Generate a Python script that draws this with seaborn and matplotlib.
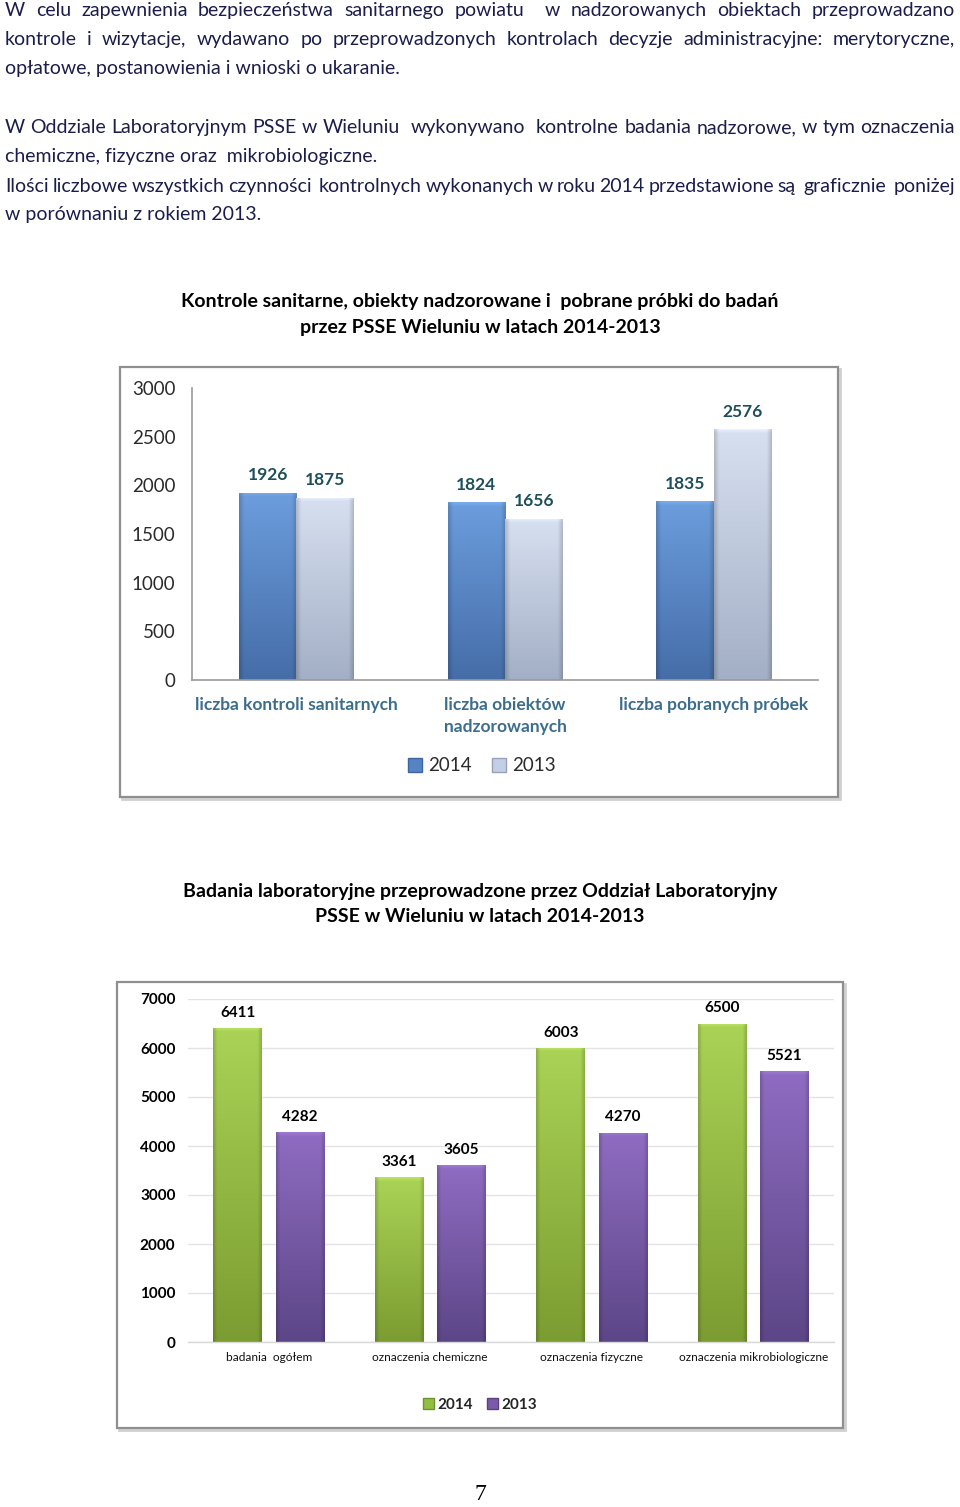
import matplotlib
matplotlib.use("Agg")
import matplotlib.pyplot as plt
import seaborn as sns
import numpy as np
import pandas as pd
from matplotlib.patches import Rectangle, Patch
from matplotlib.colors import to_rgb

# ---------------- data ----------------
years = ["2014", "2013"]

cats1 = ["liczba kontroli sanitarnych", "liczba obiektów\nnadzorowanych", "liczba pobranych próbek"]
vals1_2014 = [1926, 1824, 1835]
vals1_2013 = [1875, 1656, 2576]
yticks1 = [0, 500, 1000, 1500, 2000, 2500, 3000]

cats2 = ["badania  ogółem", "oznaczenia chemiczne", "oznaczenia fizyczne", "oznaczenia mikrobiologiczne"]
vals2_2014 = [6411, 3361, 6003, 6500]
vals2_2013 = [4282, 3605, 4270, 5521]
yticks2 = [0, 1000, 2000, 3000, 4000, 5000, 6000, 7000]

title1 = ["Kontrole sanitarne, obiekty nadzorowane i  pobrane próbki do badań",
          "przez PSSE Wieluniu w latach 2014-2013"]
title2 = ["Badania laboratoryjne przeprowadzone przez Oddział Laboratoryjny",
          "PSSE w Wieluniu w latach 2014-2013"]

paragraph_lines = [
    ("W celu zapewnienia bezpieczeństwa sanitarnego powiatu  w nadzorowanych obiektach przeprowadzano", True),
    ("kontrole i wizytacje, wydawano po przeprowadzonych kontrolach decyzje administracyjne: merytoryczne,", True),
    ("opłatowe, postanowienia i wnioski o ukaranie.", False),
    ("W Oddziale Laboratoryjnym PSSE w Wieluniu  wykonywano  kontrolne badania nadzorowe, w tym oznaczenia", True),
    ("chemiczne, fizyczne oraz  mikrobiologiczne.", False),
    ("Ilości liczbowe wszystkich czynności  kontrolnych wykonanych w roku 2014 przedstawione są  graficznie  poniżej", True),
    ("w porównaniu z rokiem 2013.", False),
]
paragraph_baseline = [16, 45, 74, 133, 162, 192, 220]
page_number = "7"

df1 = pd.DataFrame({
    "cat": cats1 * 2,
    "val": vals1_2014 + vals1_2013,
    "year": [years[0]] * len(cats1) + [years[1]] * len(cats1),
})
df2 = pd.DataFrame({
    "cat": cats2 * 2,
    "val": vals2_2014 + vals2_2013,
    "year": [years[0]] * len(cats2) + [years[1]] * len(cats2),
})

# ---------------- style ----------------
sns.set_theme(style="white")
plt.rcParams["font.family"] = ["Lato", "DejaVu Sans"]

W, H = 960, 1507
fig = plt.figure(figsize=(W / 100, H / 100), dpi=100)
fig.patch.set_facecolor("white")


def fx(px):
    return px / W


def fy(py):
    return 1 - py / H


TEXT_COL = "#1b1d4a"

# ---------------- paragraphs (justified) ----------------
renderer = fig.canvas.get_renderer()
LEFT, RIGHT = 5, 955
BODY_FS = 14
for (line, just), y in zip(paragraph_lines, paragraph_baseline):
    if not just:
        fig.text(fx(LEFT), fy(y), line, fontsize=BODY_FS, color=TEXT_COL,
                 ha="left", va="baseline")
        continue
    tokens = line.split(" ")
    items = []
    for w in tokens:
        if w:
            t = fig.text(0, fy(y), w, fontsize=BODY_FS, color=TEXT_COL, ha="left", va="baseline")
            items.append((t, t.get_window_extent(renderer).width))
        else:
            items.append((None, 0.0))
    gap = (RIGHT - LEFT - sum(wd for _, wd in items)) / (len(items) - 1)
    x = LEFT
    for t, wd in items:
        if t is not None:
            t.set_x(fx(x))
        x += wd + gap

# ---------------- titles ----------------
for i, line in enumerate(title1):
    fig.text(fx(480), fy(302 + 26 * i), line, fontsize=14, fontweight="bold",
             color="black", ha="center", va="center")
for i, line in enumerate(title2):
    fig.text(fx(480), fy(891 + 26 * i), line, fontsize=14, fontweight="bold",
             color="black", ha="center", va="center")

# ---------------- frames ----------------
def frame(x0, y0, x1, y1):
    fig.patches.append(Rectangle((fx(x0 + 2), fy(y1 + 2)), fx(x1) - fx(x0), (y1 - y0) / H,
                                 transform=fig.transFigure, facecolor="none",
                                 edgecolor="#d0d0d0", lw=2, zorder=-2))
    fig.patches.append(Rectangle((fx(x0), fy(y1)), fx(x1) - fx(x0), (y1 - y0) / H,
                                 transform=fig.transFigure, facecolor="white",
                                 edgecolor="#8f8f8f", lw=1.6, zorder=-1))


frame(120, 367, 838, 797)
frame(117, 982, 843, 1428)


# ---------------- gradient shading of bars ----------------
def shade_bars(ax, color_pairs, bevel_px=5):
    ax.figure.canvas.draw()
    y0, y1 = ax.get_ylim()
    ax_h_px = ax.get_window_extent().height
    for cont, (top, bot) in zip(ax.containers, color_pairs):
        top = np.array(to_rgb(top))
        bot = np.array(to_rgb(bot))
        for p in cont.patches:
            h = p.get_height()
            if h <= 0:
                continue
            x0, w = p.get_x(), p.get_width()
            n = 400
            t = np.linspace(0, 1, n)[:, None]
            col = top[None, None, :] * (1 - t[..., None]) + bot[None, None, :] * t[..., None]
            col = np.repeat(col, 40, axis=1)
            xs = np.linspace(0, 1, 40)
            edge = np.clip(np.minimum(xs, 1 - xs) / 0.08, 0, 1)
            col = col * (0.84 + 0.16 * edge)[None, :, None]
            bev_rows = int(n * (bevel_px * (y1 - y0) / ax_h_px) / h)
            if bev_rows > 0:
                ramp = np.linspace(1, 0, bev_rows)[:, None, None]
                col[:bev_rows] = np.clip(col[:bev_rows] * (1 + 0.05 * ramp) + 0.03 * ramp, 0, 1)
            im = ax.imshow(np.clip(col, 0, 1), extent=(x0, x0 + w, 0, h), origin="upper",
                           aspect="auto", zorder=p.get_zorder() + 0.1, interpolation="bilinear")
            im.set_clip_path(p)
            p.set_edgecolor("#00000000")


# ---------------- chart 1 ----------------
ax1 = fig.add_axes([fx(192), fy(680), fx(818) - fx(192), (680 - 388) / H])
pal1 = {"2014": "#5584c4", "2013": "#c3cfe4"}
sns.barplot(data=df1, x="cat", y="val", hue="year", palette=pal1, width=0.55, gap=0,
            saturation=1, ax=ax1, legend=False, errorbar=None)
for cont in ax1.containers:
    ax1.bar_label(cont, fmt="%d", padding=7, fontsize=12.5, fontweight="bold", color="#1f4f5c")
ax1.set_ylim(0, 3000)
ax1.set_xlim(-0.5, 2.5)
ax1.set_yticks(yticks1)
ax1.set_xlabel("")
ax1.set_ylabel("")
ax1.tick_params(axis="y", length=0, pad=12, labelsize=13.5, labelcolor="#2b2b2b")
ax1.tick_params(axis="x", length=0, pad=12, labelsize=12.5, labelcolor="#3c6d8d")
for lab in ax1.get_xticklabels():
    lab.set_fontweight("bold")
    lab.set_linespacing(1.45)
ax1.patch.set_alpha(0)
for s in ["top", "right"]:
    ax1.spines[s].set_visible(False)
for s in ["left", "bottom"]:
    ax1.spines[s].set_color("#9a9a9a")
    ax1.spines[s].set_linewidth(1.2)
shade_bars(ax1, [("#6c9ddd", "#456da8"), ("#d7e0f0", "#a3afc6")])
ax1.set_xlim(-0.5, 2.5)
ax1.set_ylim(0, 3000)

h1 = [Patch(facecolor="#5584c4", edgecolor="#3e659c", label="2014"),
      Patch(facecolor="#c3cfe4", edgecolor="#97a2b8", label="2013")]
fig.legend(handles=h1, loc="center", bbox_to_anchor=(fx(482), fy(766)), ncol=2,
           frameon=False, fontsize=13.5, handlelength=0.75, handleheight=0.75,
           handletextpad=0.3, columnspacing=1.1, labelcolor="#2b2b2b")

# ---------------- chart 2 ----------------
ax2 = fig.add_axes([fx(188), fy(1342), fx(834) - fx(188), (1342 - 999) / H])
pal2 = {"2014": "#92bf3f", "2013": "#7a5aa9"}
sns.barplot(data=df2, x="cat", y="val", hue="year", palette=pal2, width=0.77, gap=0.22,
            saturation=1, ax=ax2, legend=False, errorbar=None)
for cont in ax2.containers:
    ax2.bar_label(cont, fmt="%d", padding=6, fontsize=11, fontweight="bold", color="black")
ax2.set_ylim(0, 7000)
ax2.set_xlim(-0.5, 3.5)
ax2.set_yticks(yticks2)
ax2.set_xlabel("")
ax2.set_ylabel("")
ax2.yaxis.grid(True, color="#e3e3e3", lw=1)
ax2.set_axisbelow(True)
ax2.tick_params(axis="y", length=0, pad=9, labelsize=11, labelcolor="black")
ax2.tick_params(axis="x", length=0, pad=7, labelsize=8.6, labelcolor="#111111")
for lab in ax2.get_yticklabels():
    lab.set_fontweight("bold")
ax2.patch.set_alpha(0)
for s in ["top", "right", "left"]:
    ax2.spines[s].set_visible(False)
ax2.spines["bottom"].set_color("#d8d8d8")
ax2.spines["bottom"].set_linewidth(1)
shade_bars(ax2, [("#aad356", "#7b9c31"), ("#8f6cc2", "#5c4687")])
ax2.set_xlim(-0.5, 3.5)
ax2.set_ylim(0, 7000)

h2 = [Patch(facecolor="#92bf3f", edgecolor="#6f9130", label="2014"),
      Patch(facecolor="#7a5aa9", edgecolor="#5a4280", label="2013")]
leg2 = fig.legend(handles=h2, loc="center", bbox_to_anchor=(fx(480), fy(1405)), ncol=2,
                  frameon=False, handlelength=0.7, handleheight=0.7,
                  handletextpad=0.25, columnspacing=0.9, prop={"weight": "bold", "size": 11})

# ---------------- page number ----------------
fig.text(fx(480), fy(1495), page_number, fontsize=17, color="black", ha="center", va="center",
         family=["Liberation Serif", "DejaVu Serif"])

fig.savefig("out.png", dpi=100, facecolor="white")
